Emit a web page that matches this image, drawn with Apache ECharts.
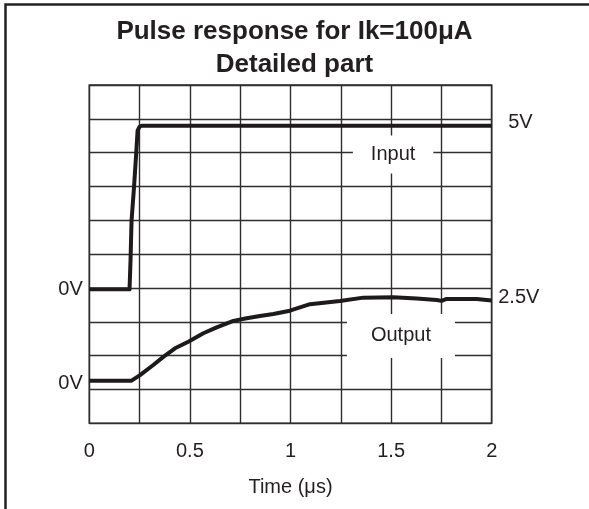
<!DOCTYPE html>
<html>
<head>
<meta charset="utf-8">
<script src="https://cdn.jsdelivr.net/npm/echarts@6/dist/echarts.min.js"></script>
<style>
  html, body { margin: 0; padding: 0; background: #fff; }
  #chart { width: 589px; height: 509px; }
</style>
</head>
<body>
<div id="chart"></div>
<script>
// time axis (µs)
var xTickLabels = ['0', '0.5', '1', '1.5', '2'];

// input pulse, volts
var inputTime  = [0, 0.2, 0.205, 0.21, 0.222, 0.232, 0.24, 0.25, 0.26, 2.0];
var inputVolts = [0, 0, 0.9, 2.1, 3.1, 4.05, 4.85, 4.97, 5.0, 5.0];

// output response, volts
var outputTime  = [0, 0.21, 0.252, 0.318, 0.368, 0.426, 0.492, 0.567, 0.633, 0.716, 0.782, 0.848,
                   0.915, 0.997, 1.097, 1.246, 1.362, 1.511, 1.627, 1.727, 1.75, 1.776, 1.925, 2.0];
var outputVolts = [0, 0, 0.17, 0.48, 0.73, 0.99, 1.19, 1.45, 1.63, 1.83, 1.91, 1.98,
                   2.04, 2.14, 2.34, 2.44, 2.54, 2.55, 2.51, 2.47, 2.44, 2.5, 2.5, 2.45];

var FONT = 'Liberation Sans';
var INK = '#231f20';

function pairs(xs, ys) {
  return xs.map(function (x, i) { return [x, ys[i]]; });
}

var chart = echarts.init(document.getElementById('chart'));

var boxLabel = function (text, padding) {
  return {
    show: true,
    position: 'inside',
    formatter: text,
    color: INK,
    fontFamily: FONT,
    fontSize: 20,
    backgroundColor: '#fff',
    padding: padding
  };
};

var sideLabel = function (text, pos, dist, off) {
  return {
    show: true,
    position: pos,
    distance: dist,
    offset: off || [0, 0],
    formatter: text,
    color: INK,
    fontFamily: FONT,
    fontSize: 20
  };
};

var option = {
  animation: false,
  backgroundColor: '#fff',
  title: {
    text: 'Pulse response for Ik=100\u03bcA\nDetailed part',
    left: 'center',
    top: 10,
    textStyle: {
      fontFamily: FONT,
      fontWeight: 'bold',
      fontSize: 26,
      lineHeight: 33,
      color: INK
    }
  },
  graphic: [{
    type: 'rect',
    shape: { x: 5.5, y: 4.5, width: 1000, height: 1000 },
    style: { fill: 'none', stroke: '#222', lineWidth: 2.5 },
    silent: true
  }],
  grid: {
    left: 89.3,
    right: 97.3,
    top: 85,
    bottom: 85.7,
    show: true,
    borderColor: '#2a2a2a',
    borderWidth: 1.5
  },
  xAxis: {
    type: 'value',
    min: 0,
    max: 2,
    interval: 0.25,
    axisLine: { show: false },
    axisTick: { show: false },
    axisLabel: {
      margin: 18,
      color: INK,
      fontFamily: FONT,
      fontSize: 20,
      formatter: function (v) {
        var k = Math.round(v * 4);
        return k % 2 === 0 ? xTickLabels[k / 2] : '';
      }
    },
    splitLine: { show: true, lineStyle: { color: '#2e2e2e', width: 1.4 } },
    name: 'Time (\u03bcs)',
    nameLocation: 'middle',
    nameGap: 54,
    nameTextStyle: { color: INK, fontFamily: FONT, fontSize: 20 }
  },
  yAxis: [{
    // division grid
    type: 'value',
    min: 0,
    max: 10,
    interval: 1,
    axisLine: { show: false },
    axisTick: { show: false },
    axisLabel: { show: false },
    splitLine: { show: true, lineStyle: { color: '#2e2e2e', width: 1.4 } }
  }, {
    // input trace scale
    type: 'value', show: false, min: -4.095, max: 6.244,
    splitLine: { show: false }
  }, {
    // output trace scale
    type: 'value', show: false, min: -1.303, max: 9.043,
    splitLine: { show: false }
  }],
  series: [{
    name: 'Input',
    type: 'line',
    yAxisIndex: 1,
    data: pairs(inputTime, inputVolts),
    symbol: 'none',
    lineStyle: { color: '#1c1a1b', width: 4, join: 'round' },
    markPoint: {
      symbol: 'rect',
      symbolSize: 1,
      itemStyle: { color: 'rgba(0,0,0,0)' },
      data: [
        { coord: [1.51, 4.12], label: boxLabel('Input', [9, 18]) },
        { coord: [2, 5], label: sideLabel('5V', 'right', 16, [0, -3]) },
        { coord: [0, 0], label: sideLabel('0V', 'left', 6) }
      ]
    }
  }, {
    name: 'Output',
    type: 'line',
    yAxisIndex: 2,
    data: pairs(outputTime, outputVolts),
    symbol: 'none',
    lineStyle: { color: '#1c1a1b', width: 4, join: 'round' },
    markPoint: {
      symbol: 'rect',
      symbolSize: 1,
      itemStyle: { color: 'rgba(0,0,0,0)' },
      data: [
        { coord: [1.549, 1.37], label: boxLabel('Output', [12, 24]) },
        { coord: [2, 2.5], label: sideLabel('2.5V', 'right', 6, [0, -1]) },
        { coord: [0, 0], label: sideLabel('0V', 'left', 6, [0, 3]) }
      ]
    }
  }]
};

chart.setOption(option);
</script>
</body>
</html>
